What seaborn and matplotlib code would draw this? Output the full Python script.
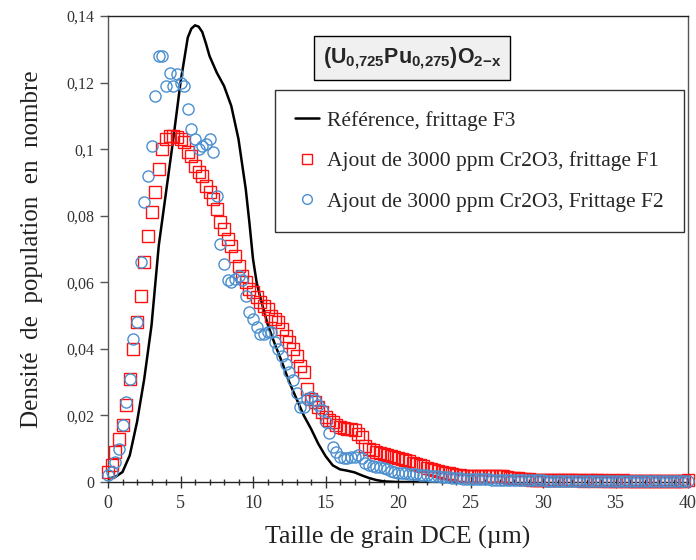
import matplotlib
matplotlib.use('Agg')
import matplotlib.pyplot as plt
import seaborn as sns
from matplotlib.lines import Line2D
from matplotlib.ticker import MultipleLocator

# ---------------- data ----------------
ref_x = [0, 0.5, 1.0, 1.5, 2.0, 2.5, 3.0, 3.5, 4.0, 4.5, 5.0, 5.5, 5.75, 6.0, 6.25,
         6.5, 6.75, 7.0, 7.5, 8.0, 8.5, 9.0, 9.5, 9.75, 10.0, 10.25, 10.5, 11.0,
         11.5, 12.0, 12.5, 13.0, 13.5, 14.0, 14.5, 15.0, 15.5, 16.0, 16.5, 17.0,
         17.5, 18.0, 18.5, 19.0, 20.0, 21.0, 22.0]
ref_y = [0.001, 0.0015, 0.003, 0.008, 0.018, 0.031, 0.047, 0.071, 0.087, 0.103, 0.120,
         0.1335, 0.1362, 0.1372, 0.1368, 0.1352, 0.1318, 0.128, 0.123, 0.119, 0.113,
         0.103, 0.088, 0.078, 0.067, 0.060, 0.0555, 0.0475, 0.0415, 0.036, 0.030,
         0.025, 0.020, 0.016, 0.0115, 0.0078, 0.0050, 0.0038, 0.0034, 0.0029,
         0.0020, 0.0012, 0.0006, 0.0002, 0.0, 0.0, 0.0]

grain_size = [0, 0.25, 0.5, 0.75, 1, 1.25, 1.5, 1.75,
              2, 2.25, 2.5, 2.75, 3, 3.25, 3.5, 3.75,
              4, 4.25, 4.5, 4.75, 5, 5.25, 5.5, 5.75,
              6, 6.25, 6.5, 6.75, 7, 7.25, 7.5, 7.75,
              8, 8.25, 8.5, 8.75, 9, 9.25, 9.5, 9.75,
              10, 10.25, 10.5, 10.75, 11, 11.25, 11.5, 11.75,
              12, 12.25, 12.5, 12.75, 13, 13.25, 13.5, 13.75,
              14, 14.25, 14.5, 14.75, 15, 15.25, 15.5, 15.75,
              16, 16.25, 16.5, 16.75, 17, 17.25, 17.5, 17.75,
              18, 18.25, 18.5, 18.75, 19, 19.25, 19.5, 19.75,
              20, 20.25, 20.5, 20.75, 21, 21.25, 21.5, 21.75,
              22, 22.25, 22.5, 22.75, 23, 23.25, 23.5, 23.75,
              24, 24.25, 24.5, 24.75, 25, 25.25, 25.5, 25.75,
              26, 26.25, 26.5, 26.75, 27, 27.25, 27.5, 27.75,
              28, 28.25, 28.5, 28.75, 29, 29.25, 29.5, 29.75,
              30, 30.25, 30.5, 30.75, 31, 31.25, 31.5, 31.75,
              32, 32.25, 32.5, 32.75, 33, 33.25, 33.5, 33.75,
              34, 34.25, 34.5, 34.75, 35, 35.25, 35.5, 35.75,
              36, 36.25, 36.5, 36.75, 37, 37.25, 37.5, 37.75,
              38, 38.25, 38.5, 38.75, 39, 39.25, 39.5, 39.75,
              40]

f1_y = [0.003, 0.005, 0.009, 0.013, 0.017, 0.023, 0.031, 0.040,
        0.048, 0.056, 0.066, 0.074, 0.081, 0.087, 0.094, 0.100,
        0.103, 0.104, 0.104, 0.1035, 0.103, 0.102, 0.099, 0.098,
        0.095, 0.093, 0.092, 0.089, 0.087, 0.085, 0.082, 0.078,
        0.076, 0.073, 0.071, 0.068, 0.065, 0.062, 0.060, 0.058,
        0.057, 0.0555, 0.054, 0.053, 0.052, 0.050, 0.049, 0.048,
        0.046, 0.044, 0.042, 0.040, 0.038, 0.035, 0.033, 0.028,
        0.025, 0.024, 0.0225, 0.021, 0.0195, 0.0185, 0.018, 0.0172,
        0.0166, 0.0163, 0.016, 0.0158, 0.0155, 0.0145, 0.0135, 0.0108,
        0.010, 0.0095, 0.009, 0.0086, 0.0083, 0.0081, 0.0079, 0.0076,
        0.0073, 0.007, 0.0066, 0.0062, 0.0058, 0.0055, 0.0051, 0.0047,
        0.0043, 0.004, 0.0036, 0.0033, 0.003, 0.0028, 0.0026, 0.0024,
        0.0022, 0.002, 0.0019, 0.0018, 0.0017, 0.0017, 0.0017, 0.0018,
        0.0018, 0.0019, 0.0019, 0.0019, 0.0018, 0.0017, 0.0015, 0.0013,
        0.0012, 0.0011, 0.001, 0.0009, 0.0008, 0.0007, 0.0007, 0.0006,
        0.0006, 0.0006, 0.0005, 0.0006, 0.0005, 0.0005, 0.0006, 0.0005,
        0.0005, 0.0005, 0.0005, 0.0004, 0.0005, 0.0005, 0.0004, 0.0005,
        0.0005, 0.0004, 0.0004, 0.0005, 0.0004, 0.0004, 0.0005, 0.0004,
        0.0004, 0.0004, 0.0004, 0.0004, 0.0004, 0.0004, 0.0004, 0.0004,
        0.0004, 0.0004, 0.0004, 0.0004, 0.0004, 0.0004, 0.0004, 0.0004,
        0.0006]

f2_y = [0.002, 0.003, 0.006, 0.010, 0.017, 0.024, 0.031, 0.043,
        0.048, 0.066, 0.084, 0.092, 0.101, 0.116, 0.128, 0.128,
        0.119, 0.123, 0.119, 0.1227, 0.120, 0.119, 0.112, 0.106,
        0.103, 0.100, 0.101, 0.1016, 0.103, 0.099, 0.0858, 0.0716,
        0.0656, 0.0606, 0.060, 0.061, 0.062, 0.0606, 0.056, 0.051,
        0.049, 0.0466, 0.0446, 0.0446, 0.045, 0.045, 0.042, 0.040,
        0.038, 0.0356, 0.033, 0.0306, 0.0266, 0.0226, 0.0226, 0.025,
        0.0256, 0.0246, 0.023, 0.0216, 0.018, 0.0146, 0.0106, 0.009,
        0.0076, 0.0072, 0.0071, 0.0074, 0.0076, 0.008, 0.0072, 0.0056,
        0.005, 0.0047, 0.0046, 0.0044, 0.0043, 0.0038, 0.0034, 0.003,
        0.0028, 0.0027, 0.0026, 0.0025, 0.0024, 0.0023, 0.0022, 0.0021,
        0.002, 0.0019, 0.0018, 0.0017, 0.0016, 0.0015, 0.0014, 0.0013,
        0.0012, 0.0011, 0.001, 0.0009, 0.0008, 0.0008, 0.0008, 0.0008,
        0.0008, 0.0008, 0.0007, 0.0007, 0.0007, 0.0007, 0.0007, 0.0006,
        0.0006, 0.0006, 0.0005, 0.0005, 0.0005, 0.0005, 0.0005, 0.0005,
        0.0005, 0.0004, 0.0004, 0.0004, 0.0004, 0.0004, 0.0004, 0.0004,
        0.0004, 0.0004, 0.0003, 0.0003, 0.0003, 0.0003, 0.0003, 0.0003,
        0.0003, 0.0003, 0.0003, 0.0003, 0.0003, 0.0003, 0.0003, 0.0003,
        0.0003, 0.0003, 0.0003, 0.0003, 0.0003, 0.0003, 0.0003, 0.0003,
        0.0003, 0.0003, 0.0003, 0.0003, 0.0003, 0.0003, 0.0003, 0.0003,
        0.0004]

series_labels = ["Référence, frittage F3",
                 "Ajout de 3000 ppm Cr2O3, frittage F1",
                 "Ajout de 3000 ppm Cr2O3, Frittage F2"]
x_ticks = [0, 5, 10, 15, 20, 25, 30, 35, 40]
x_tick_labels = ["0", "5", "10", "15", "20", "25", "30", "35", "40"]
y_ticks = [0, 0.02, 0.04, 0.06, 0.08, 0.1, 0.12, 0.14]
y_tick_labels = ["0", "0,02", "0,04", "0,06", "0,08", "0,1", "0,12", "0,14"]
title_text = r"$\mathbf{(U_{0{,}725}Pu_{0{,}275})O_{2\mathrm{-}x}}$"
x_label = "Taille de grain DCE (µm)"
y_label = "Densité  de  population  en  nombre"

# ---------------- style ----------------
sns.set_theme(style="white")
plt.rcParams['font.family'] = ['Liberation Serif', 'DejaVu Serif']
plt.rcParams['mathtext.fontset'] = 'custom'
plt.rcParams['mathtext.rm'] = 'Liberation Sans:bold'
plt.rcParams['mathtext.bf'] = 'Liberation Sans:bold'
plt.rcParams['mathtext.it'] = 'Liberation Sans:bold'

red = '#ff1010'
blue = '#4a8fcf'

fig = plt.figure(figsize=(6.96, 5.60), dpi=100)
ax = fig.add_axes([108 / 696, 1 - 482 / 560, 580 / 696, 466 / 560])

sns.lineplot(x=ref_x, y=ref_y, ax=ax, color='black', linewidth=1.8,
             estimator=None, sort=False, zorder=3)
sns.lineplot(x=grain_size, y=f1_y, ax=ax, estimator=None, sort=False,
             color=red, linestyle='', marker='s', markersize=8,
             markerfacecolor='none', markeredgecolor=red, markeredgewidth=1.0,
             clip_on=False, zorder=4)
sns.lineplot(x=grain_size, y=f2_y, ax=ax, estimator=None, sort=False,
             color=blue, linestyle='', marker='o', markersize=8,
             markerfacecolor='none', markeredgecolor=blue, markeredgewidth=1.0,
             clip_on=False, zorder=5)

ax.set_xlim(0, 40)
ax.set_ylim(0, 0.14)
ax.set_xticks(x_ticks, x_tick_labels)
ax.set_yticks(y_ticks, y_tick_labels)
ax.xaxis.set_minor_locator(MultipleLocator(1))
ax.tick_params(axis='x', which='major', bottom=True, direction='inout', length=9,
               width=1, color='#333333', labelsize=13, pad=5, labelcolor='#333333')
ax.tick_params(axis='x', which='minor', bottom=True, direction='inout', length=5,
               width=1, color='#333333')
ax.tick_params(axis='y', which='major', left=True, direction='out', length=6,
               width=1, color='#555555', labelsize=11.5, pad=4, labelcolor='#333333')

for side, sp in ax.spines.items():
    sp.set_visible(True)
    sp.set_linewidth(1.0)
    sp.set_color('#555555')
ax.spines['bottom'].set_color('#222222')
ax.spines['top'].set_color('#222222')

ax.set_xlabel(x_label, fontsize=18.5, color='#222222')
ax.set_ylabel(y_label, fontsize=18, color='#222222')
ax.xaxis.set_label_coords(0.5, -0.095)
ax.yaxis.set_label_coords(-0.112, 0.5)

handles = [Line2D([], [], color='black', linewidth=1.8),
           Line2D([], [], linestyle='', marker='s', markersize=7,
                  markerfacecolor='none', markeredgecolor=red, markeredgewidth=1.0),
           Line2D([], [], linestyle='', marker='o', markersize=7,
                  markerfacecolor='none', markeredgecolor=blue, markeredgewidth=1.0)]
leg = ax.legend(handles, series_labels, loc='upper left',
                bbox_to_anchor=(275 / 696, 1 - 90 / 560),
                bbox_transform=fig.transFigure, frameon=True, fancybox=False,
                edgecolor='black', fontsize=15.5, handlelength=1.1,
                handletextpad=0.35, labelspacing=0.95, borderpad=0.95,
                borderaxespad=0)
leg.get_frame().set_linewidth(1.0)
leg.get_frame().set_facecolor('white')
leg.set_zorder(10)

fig.text(412 / 696, 1 - 58 / 560, title_text, ha='center', va='center',
         fontsize=15.5,
         bbox=dict(boxstyle='square,pad=0.42', fc='#f0f0f0', ec='black', lw=1.0))

fig.savefig('out.png', dpi=100)
